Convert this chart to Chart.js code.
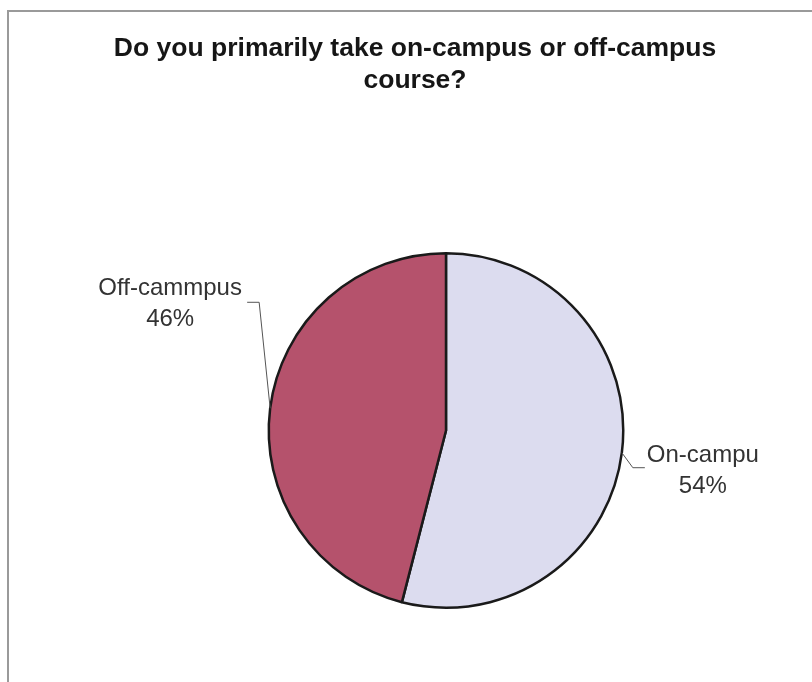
<!DOCTYPE html>
<html>
<head>
<meta charset="utf-8">
<script src="https://cdn.jsdelivr.net/npm/chart.js@4.4.0/dist/chart.umd.min.js"></script>
<style>
  html, body { margin: 0; padding: 0; background: #fff; }
  canvas { display: block; }
</style>
</head>
<body>
<canvas id="myChart" width="812" height="682"></canvas>
<script>
// Datos de la gráfica
const categories = ['On-campu', 'Off-cammpus'];
const percentages = [54, 46];
const titleLines = ['Do you primarily take on-campus or off-campus', 'course?'];

const sliceColors = ['#dcdcef', '#b5526c'];

// Posición de las etiquetas respecto al borde del sector (elbow, fin de línea, texto)
const labelStyles = [
    { elbow: [11, 15], end: [23, 15], text: [81, 9] },
    { elbow: [-11, -106], end: [-23, -106], text: [-100, -113] }
];

const framePlugin = {
    id: 'frame',
    beforeDraw(chart) {
        const ctx = chart.ctx;
        ctx.save();
        ctx.fillStyle = '#fff';
        ctx.fillRect(0, 0, chart.width, chart.height);
        ctx.strokeStyle = '#9a9a9a';
        ctx.lineWidth = 2;
        ctx.beginPath();
        ctx.moveTo(8, chart.height);
        ctx.lineTo(8, 11);
        ctx.lineTo(chart.width, 11);
        ctx.stroke();

        // Título
        ctx.fillStyle = '#161616';
        ctx.font = 'bold 26.5px "Liberation Sans", Arial, sans-serif';
        ctx.textAlign = 'center';
        ctx.textBaseline = 'alphabetic';
        titleLines.forEach((line, i) => ctx.fillText(line, 415, 56 + i * 32));
        ctx.restore();
    }
};

const sliceLabels = {
    id: 'sliceLabels',
    afterDatasetsDraw(chart) {
        const ctx = chart.ctx;
        const meta = chart.getDatasetMeta(0);
        ctx.save();
        meta.data.forEach((arc, i) => {
            const p = arc.getProps(['x', 'y', 'startAngle', 'endAngle', 'outerRadius'], true);
            const mid = (p.startAngle + p.endAngle) / 2;
            const ex = p.x + Math.cos(mid) * p.outerRadius;
            const ey = p.y + Math.sin(mid) * p.outerRadius;
            const s = labelStyles[i];

            // línea guía
            ctx.strokeStyle = '#555';
            ctx.lineWidth = 1;
            ctx.beginPath();
            ctx.moveTo(ex, ey);
            ctx.lineTo(ex + s.elbow[0], ey + s.elbow[1]);
            ctx.lineTo(ex + s.end[0], ey + s.end[1]);
            ctx.stroke();

            ctx.fillStyle = '#333';
            ctx.font = '24px "Liberation Sans", Arial, sans-serif';
            ctx.textAlign = 'center';
            ctx.textBaseline = 'alphabetic';
            const tx = ex + s.text[0];
            const ty = ey + s.text[1];
            ctx.fillText(categories[i], tx, ty);
            ctx.fillText(percentages[i] + '%', tx, ty + 31);
        });
        ctx.restore();
    }
};

const canvas = document.getElementById('myChart');
const ctx = canvas.getContext('2d');
const myChart = new Chart(ctx, {
    type: 'pie',
    data: {
        labels: categories,
        datasets: [{
            data: percentages,
            backgroundColor: sliceColors,
            borderColor: '#1a1a1a',
            borderWidth: 2.5
        }]
    },
    options: {
        responsive: false,
        animation: false,
        layout: {
            padding: { left: 267.5, right: 187.5, top: 252, bottom: 73 }
        },
        plugins: {
            legend: { display: false },
            title: { display: false },
            tooltip: { enabled: false }
        }
    },
    plugins: [framePlugin, sliceLabels]
});
</script>
</body>
</html>
